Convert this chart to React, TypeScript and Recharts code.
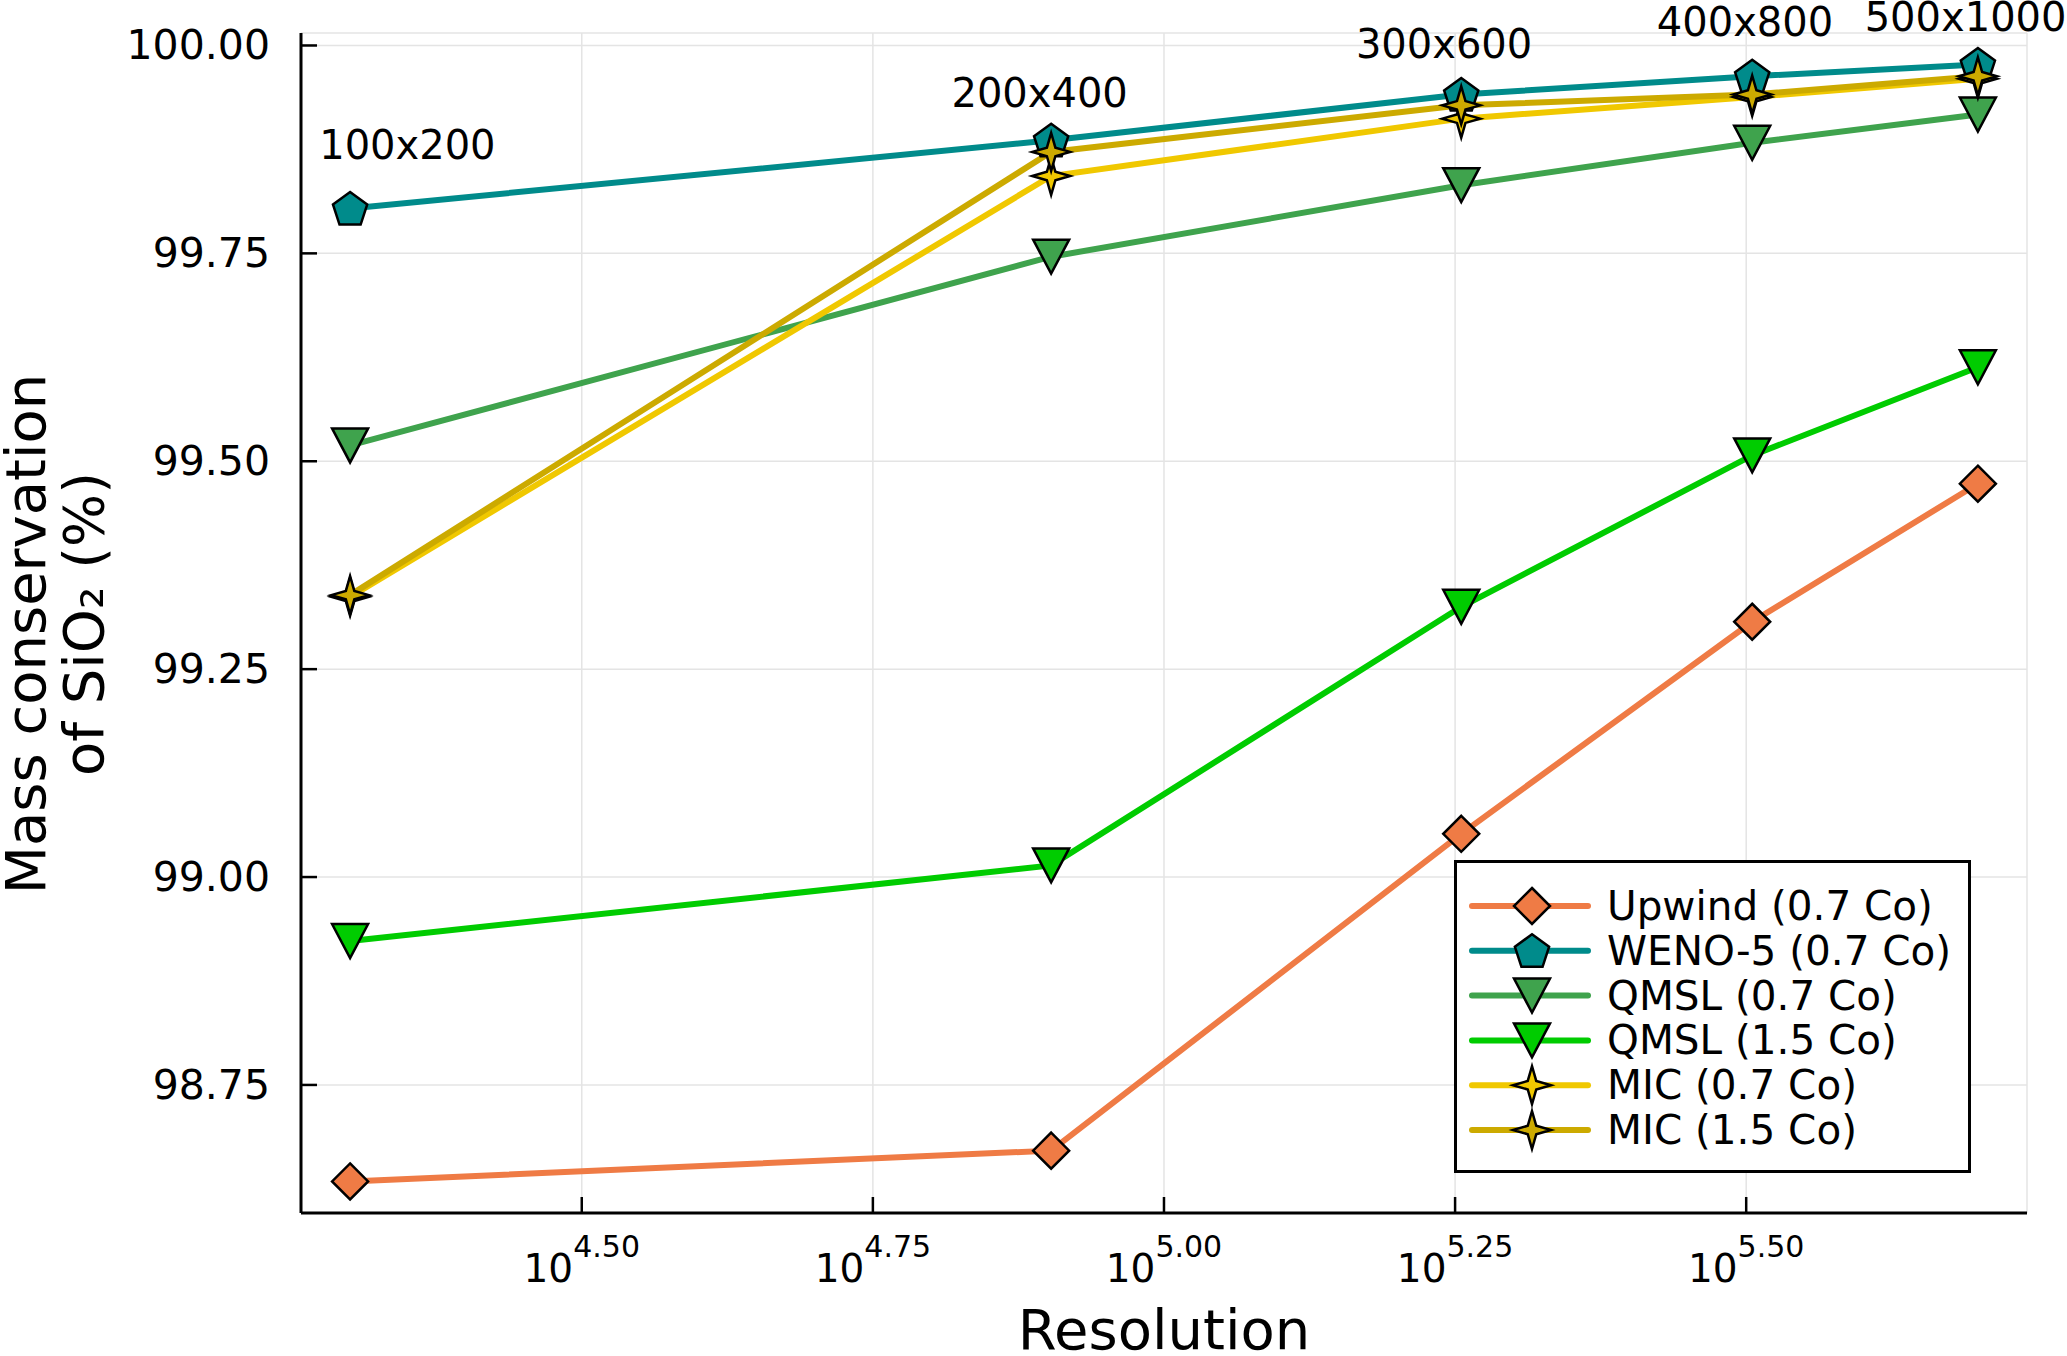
import { LineChart, Line, XAxis, YAxis, CartesianGrid, Legend, ReferenceDot } from 'recharts';

const FONT = '"DejaVu Sans", sans-serif';

// grid sizes and number of cells (nx * ny)
const resolutions = ['100x200', '200x400', '300x600', '400x800', '500x1000'];
const cells = [20000, 80000, 180000, 320000, 500000];

// mass conservation of SiO2 (%) per scheme
const upwind07 = [98.634, 98.671, 99.052, 99.307, 99.473];
const weno07 = [99.804, 99.886, 99.941, 99.963, 99.977];
const qmsl07 = [99.519, 99.746, 99.832, 99.883, 99.917];
const qmsl15 = [98.923, 99.014, 99.325, 99.507, 99.613];
const mic07 = [99.337, 99.843, 99.912, 99.938, 99.96];
const mic15 = [99.339, 99.872, 99.928, 99.941, 99.963];

const xTicks = [10 ** 4.5, 10 ** 4.75, 10 ** 5, 10 ** 5.25, 10 ** 5.5];
const yTicks = [98.75, 99.0, 99.25, 99.5, 99.75, 100.0];
const xDomain = [18150, 551000];
const yDomain = [98.596, 100.015];

// where the resolution annotations sit
const labelX = [22400, 78200, 174000, 315500, 488000];
const labelY = [99.88, 99.943, 100.002, 100.028, 100.034];

const data = cells.map((c, i) => ({
  cells: c,
  upwind07: upwind07[i],
  weno07: weno07[i],
  qmsl07: qmsl07[i],
  qmsl15: qmsl15[i],
  mic07: mic07[i],
  mic15: mic15[i],
}));

const series = [
  { key: 'upwind07', name: 'Upwind (0.7 Co)', color: '#EF7B45', marker: 'diamond' },
  { key: 'weno07', name: 'WENO-5 (0.7 Co)', color: '#008B8B', marker: 'pentagon' },
  { key: 'qmsl07', name: 'QMSL (0.7 Co)', color: '#3FA34D', marker: 'dtriangle' },
  { key: 'qmsl15', name: 'QMSL (1.5 Co)', color: '#00CC00', marker: 'dtriangle' },
  { key: 'mic07', name: 'MIC (0.7 Co)', color: '#F0C800', marker: 'star4' },
  { key: 'mic15', name: 'MIC (1.5 Co)', color: '#CCAA00', marker: 'star4' },
];

function Marker({ kind, cx, cy, fill }: { kind: string; cx: number; cy: number; fill: string }) {
  const common = { fill, stroke: '#000', strokeWidth: 2.5, strokeLinejoin: 'miter' as const };
  if (kind === 'diamond') {
    const h = 18;
    return <polygon {...common} points={`${cx},${cy - h} ${cx + h},${cy} ${cx},${cy + h} ${cx - h},${cy}`} />;
  }
  if (kind === 'pentagon') {
    const r = 18;
    const pts = [0, 1, 2, 3, 4]
      .map((k) => {
        const a = ((-90 + k * 72) * Math.PI) / 180;
        return `${cx + r * Math.cos(a)},${cy + 1.5 + r * Math.sin(a)}`;
      })
      .join(' ');
    return <polygon {...common} points={pts} />;
  }
  if (kind === 'dtriangle') {
    const w = 18;
    const h = 17;
    return <polygon {...common} points={`${cx - w},${cy - h} ${cx + w},${cy - h} ${cx},${cy + h}`} />;
  }
  // 4-pointed star
  const R = 19;
  const r = 6;
  const pts: string[] = [];
  for (let k = 0; k < 8; k++) {
    const a = ((-90 + k * 45) * Math.PI) / 180;
    const rad = k % 2 === 0 ? R : r;
    pts.push(`${cx + rad * Math.cos(a)},${cy + rad * Math.sin(a)}`);
  }
  return <polygon {...common} points={pts.join(' ')} />;
}

const XTick = (props: any) => {
  const { x, y, payload } = props;
  const exp = Math.log10(payload.value).toFixed(2);
  return (
    <g>
      <line x1={x} x2={x} y1={y} y2={y - 16} stroke="#000" strokeWidth={2.5} />
      <text x={x} y={y + 69} textAnchor="middle" fontFamily={FONT} fill="#000">
        <tspan fontSize={39}>10</tspan>
        <tspan fontSize={30} dy={-25}>
          {exp}
        </tspan>
      </text>
    </g>
  );
};

const YTick = (props: any) => {
  const { x, y, payload } = props;
  return (
    <g>
      <line x1={x} x2={x + 16} y1={y} y2={y} stroke="#000" strokeWidth={2.5} />
      <text x={x - 31} y={y + 14} textAnchor="end" fontFamily={FONT} fontSize={41} fill="#000">
        {payload.value.toFixed(2)}
      </text>
    </g>
  );
};

const LegendBox = () => (
  <svg width={517} height={313} style={{ display: 'block' }}>
    <rect x={1.5} y={1.5} width={514} height={310} fill="#fff" stroke="#000" strokeWidth={3} />
    {series.map((s, i) => {
      const cy = 46 + i * 44.8;
      return (
        <g key={s.key}>
          <line x1={18} x2={134} y1={cy} y2={cy} stroke={s.color} strokeWidth={6} strokeLinecap="round" />
          <Marker kind={s.marker} cx={78} cy={cy} fill={s.color} />
          <text x={153} y={cy + 14} fontFamily={FONT} fontSize={40.5} fill="#000">
            {s.name}
          </text>
        </g>
      );
    })}
  </svg>
);

export default function App() {
  return (
    <div style={{ position: 'absolute', left: 0, top: 0, width: 2067, height: 1356, background: '#fff' }}>
      <LineChart width={2067} height={1356} data={data} margin={{ top: 33, right: 40, bottom: 43, left: 201 }}>
        <CartesianGrid stroke="#e4e4e4" strokeWidth={1.5} />
        <XAxis
          dataKey="cells"
          type="number"
          scale="log"
          domain={xDomain}
          ticks={xTicks}
          interval={0}
          height={100}
          tickSize={0}
          tickMargin={0}
          tickLine={false}
          tick={XTick}
          axisLine={{ stroke: '#000', strokeWidth: 3 }}
          label={{
            content: () => (
              <text x={1164} y={1349} textAnchor="middle" fontFamily={FONT} fontSize={56} fill="#000">
                Resolution
              </text>
            ),
          }}
        />
        <YAxis
          type="number"
          domain={yDomain}
          ticks={yTicks}
          interval={0}
          width={100}
          tickSize={0}
          tickMargin={0}
          tickLine={false}
          tick={YTick}
          axisLine={{ stroke: '#000', strokeWidth: 3 }}
          label={{
            content: () => (
              <g fontFamily={FONT} fontSize={56} fill="#000">
                <text x={45} y={634} textAnchor="middle" transform="rotate(-90, 45, 634)">
                  Mass conservation
                </text>
                <text x={103} y={624} textAnchor="middle" transform="rotate(-90, 103, 624)">
                  of SiO₂ (%)
                </text>
              </g>
            ),
          }}
        />
        {series.map((s) => (
          <Line
            key={s.key}
            dataKey={s.key}
            name={s.name}
            stroke={s.color}
            strokeWidth={6}
            isAnimationActive={false}
            activeDot={false}
            dot={(p: any) => (
              <Marker key={`${s.key}-${p.index}`} kind={s.marker} cx={p.cx} cy={p.cy} fill={s.color} />
            )}
          />
        ))}
        {resolutions.map((r, i) => (
          <ReferenceDot
            key={r}
            x={labelX[i]}
            y={labelY[i]}
            ifOverflow="visible"
            shape={(p: any) => (
              <text x={p.cx} y={p.cy + 14} textAnchor="middle" fontFamily={FONT} fontSize={40} fill="#000">
                {r}
              </text>
            )}
          />
        ))}
        <Legend
          layout="horizontal"
          verticalAlign="middle"
          align="center"
          wrapperStyle={{ left: 1454, top: 860, width: 517, height: 313 }}
          content={() => <LegendBox />}
        />
      </LineChart>
    </div>
  );
}
